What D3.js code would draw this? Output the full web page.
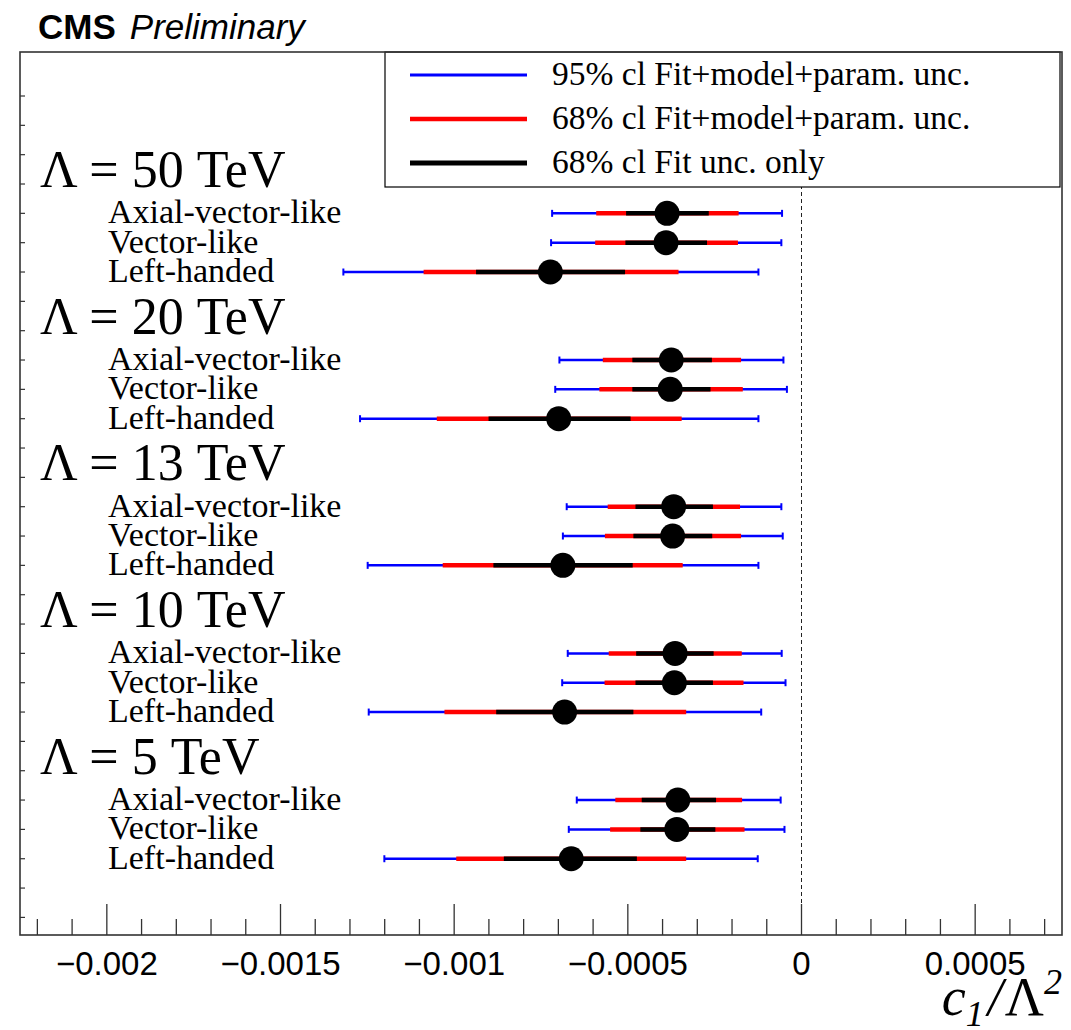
<!DOCTYPE html>
<html>
<head>
<meta charset="utf-8">
<script src="https://cdn.jsdelivr.net/npm/d3@7"></script>
<style>
  body { margin: 0; background: #fff; }
  svg { display: block; }
  .serif { font-family: "Liberation Serif", "Times New Roman", serif; }
  .sans { font-family: "Liberation Sans", Arial, sans-serif; }
</style>
</head>
<body>
<svg width="1071" height="1030"></svg>
<script>
// chart values (c1 / Lambda^2), per Lambda group: axial, vector, left-handed
var lambdas = ["50", "20", "13", "10", "5"];
var models = ["Axial-vector-like", "Vector-like", "Left-handed"];

var central = [-3.87e-4, -3.90e-4, -7.23e-4, -3.75e-4, -3.78e-4, -6.99e-4, -3.68e-4, -3.71e-4, -6.87e-4,
               -3.64e-4, -3.66e-4, -6.82e-4, -3.56e-4, -3.59e-4, -6.63e-4];
// 68% cl, fit uncertainty only
var fitLo = [-5.05e-4, -5.07e-4, -9.37e-4, -4.87e-4, -4.87e-4, -9.01e-4, -4.78e-4, -4.84e-4, -8.87e-4,
             -4.76e-4, -4.78e-4, -8.79e-4, -4.60e-4, -4.64e-4, -8.57e-4];
var fitHi = [-2.67e-4, -2.72e-4, -5.08e-4, -2.58e-4, -2.62e-4, -4.92e-4, -2.55e-4, -2.57e-4, -4.86e-4,
             -2.53e-4, -2.55e-4, -4.84e-4, -2.46e-4, -2.48e-4, -4.74e-4];
// 68% cl, fit + model + param.
var totLo = [-5.91e-4, -5.94e-4, -10.88e-4, -5.72e-4, -5.82e-4, -10.50e-4, -5.58e-4, -5.66e-4, -10.33e-4,
             -5.55e-4, -5.67e-4, -10.28e-4, -5.36e-4, -5.51e-4, -9.94e-4];
var totHi = [-1.81e-4, -1.83e-4, -3.54e-4, -1.74e-4, -1.69e-4, -3.45e-4, -1.77e-4, -1.74e-4, -3.42e-4,
             -1.72e-4, -1.67e-4, -3.32e-4, -1.71e-4, -1.64e-4, -3.32e-4];
// 95% cl, fit + model + param.
var lo95 = [-7.18e-4, -7.21e-4, -13.19e-4, -6.97e-4, -7.09e-4, -12.71e-4, -6.76e-4, -6.87e-4, -12.49e-4,
            -6.73e-4, -6.89e-4, -12.46e-4, -6.47e-4, -6.70e-4, -12.01e-4];
var hi95 = [-0.56e-4, -0.58e-4, -1.24e-4, -0.52e-4, -0.42e-4, -1.24e-4, -0.58e-4, -0.54e-4, -1.24e-4,
            -0.57e-4, -0.46e-4, -1.16e-4, -0.60e-4, -0.49e-4, -1.26e-4];

var xTicks = [-0.002, -0.0015, -0.001, -0.0005, 0, 0.0005];
var xTickLabels = ["\u22120.002", "\u22120.0015", "\u22120.001", "\u22120.0005", "0", "0.0005"];

var legendEntries = [
  {label: "95% cl Fit+model+param. unc.", color: "#0000ff", width: 3},
  {label: "68% cl Fit+model+param. unc.", color: "#ff0000", width: 4.5},
  {label: "68% cl Fit unc. only", color: "#000000", width: 5}
];

var svg = d3.select("svg"),
    plotL = 20, plotR = 1062, plotT = 52, plotB = 935;

var x = d3.scaleLinear().domain([-0.00225, 0.00075]).range([plotL, plotR]);
var y = d3.scaleLinear().domain([-0.6, 29.5]).range([plotB, plotT]);

// one record per row
var rows = [];
lambdas.forEach(function(l, g) {
  models.forEach(function(m, j) {
    var i = g * 3 + j;
    rows.push({model: m, pos: 24 - 5 * g - j, c: central[i],
               fLo: fitLo[i], fHi: fitHi[i], tLo: totLo[i], tHi: totHi[i], lo: lo95[i], hi: hi95[i]});
  });
});

// dashed zero line
svg.append("line")
    .attr("x1", x(0)).attr("x2", x(0))
    .attr("y1", plotT).attr("y2", plotB)
    .attr("stroke", "#222").attr("stroke-width", 1)
    .attr("stroke-dasharray", "4,3");

// group headers
svg.selectAll("text.header")
  .data(lambdas)
  .enter().append("text")
    .attr("class", "header serif")
    .attr("x", 40)
    .attr("y", function(d, g) { return y(25 - 5 * g) + 3; })
    .style("font-size", "52px")
    .text(function(d) { return "\u039b = " + d + " TeV"; });

// row labels
svg.selectAll("text.model")
  .data(rows)
  .enter().append("text")
    .attr("class", "model serif")
    .attr("x", 108)
    .attr("y", function(d) { return y(d.pos) + 10; })
    .style("font-size", "34px")
    .text(function(d) { return d.model; });

var marks = svg.append("g");

marks.selectAll("line.b95")
  .data(rows)
  .enter().append("line")
    .attr("x1", function(d) { return x(d.lo); })
    .attr("x2", function(d) { return x(d.hi); })
    .attr("y1", function(d) { return y(d.pos); })
    .attr("y2", function(d) { return y(d.pos); })
    .attr("stroke", "#0000ff").attr("stroke-width", 2.5);

// small end caps on the 95% bars
["lo", "hi"].forEach(function(k) {
  marks.selectAll("line.cap" + k)
    .data(rows)
    .enter().append("line")
      .attr("x1", function(d) { return x(d[k]); })
      .attr("x2", function(d) { return x(d[k]); })
      .attr("y1", function(d) { return y(d.pos) - 3.5; })
      .attr("y2", function(d) { return y(d.pos) + 3.5; })
      .attr("stroke", "#0000ff").attr("stroke-width", 2);
});

marks.selectAll("line.tot")
  .data(rows)
  .enter().append("line")
    .attr("x1", function(d) { return x(d.tLo); })
    .attr("x2", function(d) { return x(d.tHi); })
    .attr("y1", function(d) { return y(d.pos); })
    .attr("y2", function(d) { return y(d.pos); })
    .attr("stroke", "#ff0000").attr("stroke-width", 4.5);

marks.selectAll("line.fit")
  .data(rows)
  .enter().append("line")
    .attr("x1", function(d) { return x(d.fLo); })
    .attr("x2", function(d) { return x(d.fHi); })
    .attr("y1", function(d) { return y(d.pos); })
    .attr("y2", function(d) { return y(d.pos); })
    .attr("stroke", "#000").attr("stroke-width", 4.5);

marks.selectAll("circle")
  .data(rows)
  .enter().append("circle")
    .attr("cx", function(d) { return x(d.c); })
    .attr("cy", function(d) { return y(d.pos); })
    .attr("r", 12.5)
    .attr("fill", "#000");

// legend (white box hides the top of the zero line)
var lg = svg.append("g");
lg.append("rect")
    .attr("x", 385).attr("y", plotT).attr("width", 675).attr("height", 135)
    .attr("fill", "#fff").attr("stroke", "#000").attr("stroke-width", 1.2);

lg.selectAll("line")
  .data(legendEntries)
  .enter().append("line")
    .attr("x1", 410).attr("x2", 527)
    .attr("y1", function(d, i) { return 75 + i * 44; })
    .attr("y2", function(d, i) { return 75 + i * 44; })
    .attr("stroke", function(d) { return d.color; })
    .attr("stroke-width", function(d) { return d.width; });

lg.selectAll("text")
  .data(legendEntries)
  .enter().append("text")
    .attr("class", "serif")
    .attr("x", 552)
    .attr("y", function(d, i) { return 75 + i * 44 + 10; })
    .style("font-size", "33.5px")
    .text(function(d) { return d.label; });

// x axis ticks: majors every 0.0005, minors every 0.0001
var minor = d3.range(-22, 8).map(function(i) { return i * 1e-4; });
var ax = svg.append("g");
ax.selectAll("line.minor")
  .data(minor)
  .enter().append("line")
    .attr("x1", function(d) { return x(d); })
    .attr("x2", function(d) { return x(d); })
    .attr("y1", plotB)
    .attr("y2", function(d, i) { return Math.abs(Math.round(d * 1e4)) % 5 === 0 ? plotB - 31 : plotB - 16; })
    .attr("stroke", "#333").attr("stroke-width", 1.3);

ax.selectAll("text")
  .data(xTicks)
  .enter().append("text")
    .attr("class", "sans")
    .attr("x", function(d) { return x(d); })
    .attr("y", 975)
    .attr("text-anchor", "middle")
    .style("font-size", "33px")
    .text(function(d, i) { return xTickLabels[i]; });

// y axis ticks at each row slot
svg.append("g").selectAll("line")
  .data(d3.range(0, 29))
  .enter().append("line")
    .attr("x1", plotL).attr("x2", plotL + 5)
    .attr("y1", function(d) { return y(d); })
    .attr("y2", function(d) { return y(d); })
    .attr("stroke", "#333").attr("stroke-width", 1.2);

// frame
svg.append("rect")
    .attr("x", plotL).attr("y", plotT)
    .attr("width", plotR - plotL).attr("height", plotB - plotT)
    .attr("fill", "none").attr("stroke", "#333").attr("stroke-width", 1.6);

// axis title c_1 / Lambda^2
var title = svg.append("text")
    .attr("class", "serif")
    .attr("x", plotR)
    .attr("y", 1015)
    .attr("text-anchor", "end")
    .style("font-size", "54px")
    .style("font-style", "italic");
title.append("tspan").text("c");
title.append("tspan").attr("dy", 11).style("font-size", "36px").text("1");
title.append("tspan").attr("dy", -11).attr("dx", 4).text("/");
title.append("tspan").attr("dx", 2).style("font-style", "normal").text("\u039b");
title.append("tspan").attr("dy", -21).style("font-size", "36px").text("2");

// CMS label
var cms = svg.append("text")
    .attr("class", "sans")
    .attr("x", 38)
    .attr("y", 39)
    .style("font-size", "35px");
cms.append("tspan").style("font-weight", "bold").text("CMS");
cms.append("tspan").attr("dx", 14).style("font-style", "italic").text("Preliminary");
</script>
</body>
</html>
